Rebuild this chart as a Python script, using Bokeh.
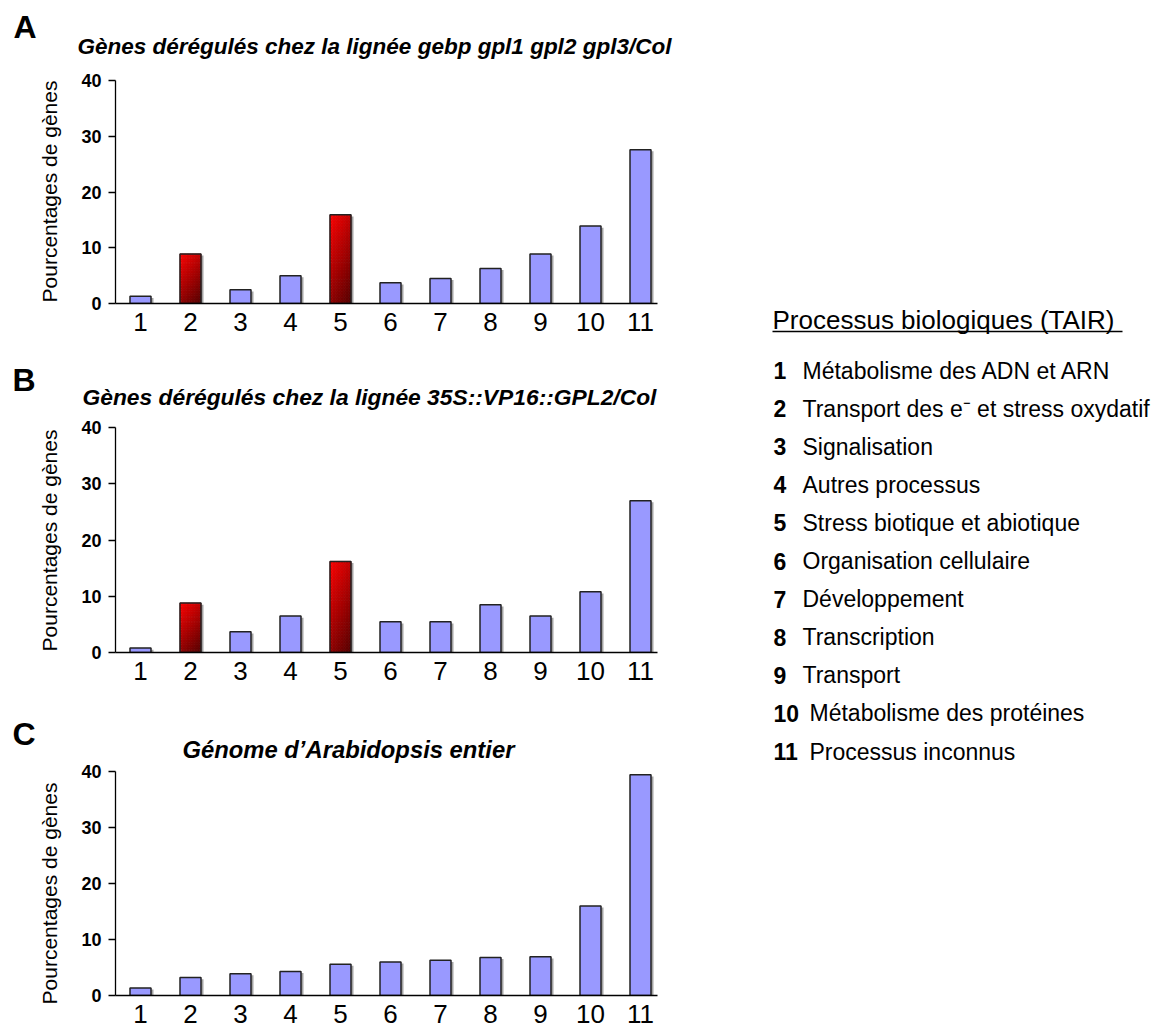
import numpy as np
from bokeh.plotting import figure
from bokeh.layouts import row, column
from bokeh.models import Range1d, FixedTicker, Title
from bokeh.embed import file_html
from bokeh.resources import INLINE
from bokeh.core.properties import value

# ---------------- data ----------------
categories = ["1", "2", "3", "4", "5", "6", "7", "8", "9", "10", "11"]
values_a = [1.3, 8.9, 2.45, 5.0, 15.9, 3.7, 4.5, 6.3, 8.9, 13.9, 27.6]
values_b = [0.8, 8.8, 3.7, 6.5, 16.2, 5.45, 5.45, 8.5, 6.5, 10.8, 27.0]
values_c = [1.35, 3.2, 3.9, 4.3, 5.6, 6.0, 6.3, 6.8, 6.9, 16.0, 39.4]
highlight_a = ["2", "5"]
highlight_b = ["2", "5"]
highlight_c = []
y_ticks = [0, 10, 20, 30, 40]
panel_letters = ["A", "B", "C"]
title_a = "Gènes dérégulés chez la lignée gebp gpl1 gpl2 gpl3/Col"
title_b = "Gènes dérégulés chez la lignée 35S::VP16::GPL2/Col"
title_c = "Génome d’Arabidopsis entier"
y_label = "Pourcentages de gènes"
legend_title = "Processus biologiques (TAIR)"
legend_numbers = ["1", "2", "3", "4", "5", "6", "7", "8", "9", "10", "11"]
legend_labels = [
    "Métabolisme des ADN et ARN",
    "Transport des e⁻ et stress oxydatif",
    "Signalisation",
    "Autres processus",
    "Stress biotique et abiotique",
    "Organisation cellulaire",
    "Développement",
    "Transcription",
    "Transport",
    "Métabolisme des protéines",
    "Processus inconnus",
]

FONT = "Liberation Sans"
BLUE = "#9999FF"
EDGE = "#222222"
BAR_W = 0.42
PAGE_H = 1032
STRIP_W = 62


def lerp_color(c1, c2, t):
    r = int(round(c1[0] + (c2[0] - c1[0]) * t))
    g = int(round(c1[1] + (c2[1] - c1[1]) * t))
    b = int(round(c1[2] + (c2[2] - c1[2]) * t))
    return "#%02x%02x%02x" % (r, g, b)


def make_panel(vals, highlight, title, height, b_top, b_bottom,
               title_offset, title_standoff, title_size):
    p = figure(width=680 - STRIP_W, height=height, x_range=Range1d(0.5, 11.34),
               y_range=Range1d(0, 40), output_backend="svg",
               toolbar_location=None, title=None,
               min_border_left=115 - STRIP_W, min_border_right=23,
               min_border_top=b_top, min_border_bottom=b_bottom)
    xs = np.arange(1, len(categories) + 1)
    vals = np.array(vals, dtype=float)

    # shadow
    p.vbar(x=xs + 0.05, top=vals - 0.3, bottom=0, width=BAR_W,
           fill_color="#9a9a9a", fill_alpha=0.9, line_color=None)

    is_hl = np.array([c in highlight for c in categories])
    p.vbar(x=xs[~is_hl], top=vals[~is_hl], bottom=0, width=BAR_W,
           fill_color=BLUE, line_color=EDGE, line_width=1.5)

    # red gradient bars
    nx, ny = 8, 30
    L, R, B, T, C = [], [], [], [], []
    for x, v in zip(xs[is_hl], vals[is_hl]):
        for i in range(nx):
            for j in range(ny):
                u = (i + 0.5) / nx
                w = (j + 0.5) / ny
                t = 0.35 * u + 0.65 * w
                L.append(x - BAR_W / 2 + i * BAR_W / nx)
                R.append(x - BAR_W / 2 + (i + 1) * BAR_W / nx)
                T.append(v * (1 - j / ny))
                B.append(v * (1 - (j + 1) / ny))
                C.append(lerp_color((255, 0, 0), (85, 0, 0), t))
    if L:
        p.quad(left=L, right=R, bottom=B, top=T, fill_color=C,
               line_color=C, line_width=0.6)
        p.vbar(x=xs[is_hl], top=vals[is_hl], bottom=0, width=BAR_W,
               fill_color=None, line_color=EDGE, line_width=1.5)

    p.grid.visible = False
    p.outline_line_color = None

    xa = p.xaxis[0]
    xa.ticker = FixedTicker(ticks=[int(v) for v in xs])
    xa.major_label_overrides = {int(k): c for k, c in zip(xs, categories)}
    xa.major_tick_out = 0
    xa.major_tick_in = 0
    xa.minor_tick_out = 0
    xa.minor_tick_in = 0
    xa.axis_line_color = "black"
    xa.axis_line_width = 1.3
    xa.major_label_text_font = FONT
    xa.major_label_text_font_size = "26px"
    xa.major_label_text_color = "black"
    xa.major_label_standoff = 9

    ya = p.yaxis[0]
    ya.ticker = FixedTicker(ticks=y_ticks)
    ya.major_tick_out = 7
    ya.major_tick_in = 0
    ya.minor_tick_out = 0
    ya.minor_tick_in = 0
    ya.axis_line_color = "black"
    ya.axis_line_width = 1.3
    ya.major_tick_line_width = 1.3
    ya.major_label_text_font = FONT
    ya.major_label_text_font_size = "18px"
    ya.major_label_text_font_style = "bold"
    ya.major_label_text_color = "black"
    ya.major_label_standoff = 7

    p.add_layout(Title(text=title, align="left", offset=title_offset,
                       standoff=title_standoff, text_font=FONT,
                       text_font_size=title_size, text_font_style="bold italic",
                       text_color="black"), "above")
    return p


pa = make_panel(values_a, highlight_a, title_a, 348, 80, 45, -38, 43, "22.5px")
pb = make_panel(values_b, highlight_b, title_b, 344, 79, 40, -33, 36, "22.8px")
pc = make_panel(values_c, highlight_c, title_c, 340, 79, 37, 67, 18, "23.8px")

# ---------------- left strip: panel letters and y-axis titles ----------------
ps = figure(width=STRIP_W, height=PAGE_H, x_range=Range1d(0, STRIP_W),
            y_range=Range1d(PAGE_H, 0), output_backend="svg",
            toolbar_location=None, title=None,
            x_axis_location=None, y_axis_location=None, min_border=0)
ps.outline_line_color = None
ps.grid.visible = False
ps.text(x=[13, 12, 12], y=[26.5, 379, 733.5], text=panel_letters,
        text_font=value(FONT), text_font_size="32px", text_font_style="bold",
        text_color="black", text_align="left", text_baseline="middle")
ps.text(x=[48.7, 48.7, 48.7], y=[191, 540, 893], text=[y_label] * 3,
        angle=np.pi / 2, text_font=value(FONT), text_font_size="21px",
        text_color="black", text_align="center", text_baseline="middle")

# ---------------- legend panel ----------------
pl = figure(width=472, height=PAGE_H, x_range=Range1d(680, 1152),
            y_range=Range1d(PAGE_H, 0), output_backend="svg",
            toolbar_location=None, title=None,
            x_axis_location=None, y_axis_location=None,
            min_border=0)
pl.outline_line_color = None
pl.grid.visible = False

pl.text(x=[772], y=[319.5], text=[legend_title], text_font=value(FONT),
        text_font_size="26px", text_color="black",
        text_align="left", text_baseline="middle")
pl.segment(x0=[772], y0=[331], x1=[1122], y1=[331], line_color="black",
           line_width=1.5)

row_y = [370 + 38.1 * i for i in range(len(legend_numbers))]
desc_x = [802 if len(n) == 1 else 809 for n in legend_numbers]
pl.text(x=[773] * len(legend_numbers), y=row_y, text=legend_numbers,
        text_font=value(FONT), text_font_size="23px",
        text_font_style="bold", text_color="black",
        text_align="left", text_baseline="middle")
pl.text(x=desc_x, y=row_y, text=legend_labels,
        text_font=value(FONT), text_font_size="23px",
        text_color="black", text_align="left", text_baseline="middle")

layout = row(ps, column(pa, pb, pc), pl)
open("out.html", "w").write(file_html(layout, INLINE))
